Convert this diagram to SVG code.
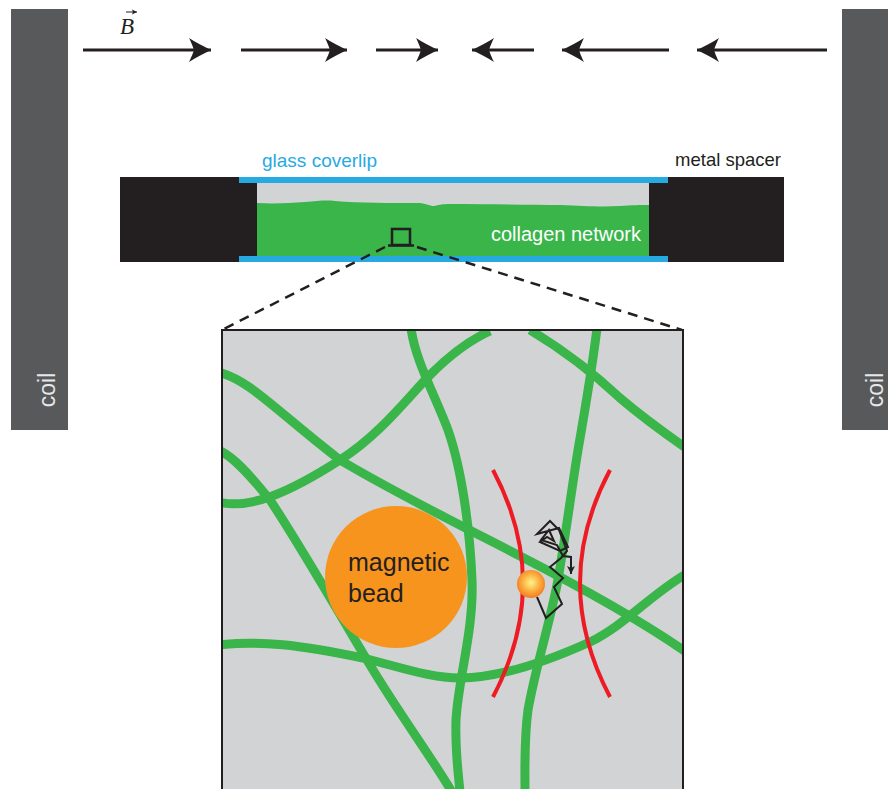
<svg xmlns="http://www.w3.org/2000/svg" width="888" height="789" viewBox="0 0 888 789">
  <style>
    .coil { fill: #58595b; }
    .coil-label { font-family: "Liberation Sans", Arial, sans-serif; font-size: 23px; fill: #e6e7e8; text-anchor: middle; }
    .field { stroke: #231f20; stroke-width: 3; fill: none; }
    .label { font-family: "Liberation Sans", Arial, sans-serif; }
    .fiber { fill: none; stroke: #39b54a; stroke-width: 9; stroke-linecap: butt; stroke-linejoin: round; }
    .trap { fill: none; stroke: #ed1c24; stroke-width: 4; }
    .dash { fill: none; stroke: #231f20; stroke-width: 2.5; stroke-dasharray: 10 7; }
  </style>
  <defs>
    <marker id="head" viewBox="-22 -12 23 24" refX="0" refY="0" markerWidth="23" markerHeight="24" orient="auto" markerUnits="userSpaceOnUse">
      <path d="M0,0 C-8,-4 -16,-8 -22,-12 C-19,-6 -18,-3 -17,0 C-18,3 -19,6 -22,12 C-16,8 -8,4 0,0 Z" fill="#231f20"/>
    </marker>
    <marker id="smallhead" viewBox="-8 -4 9 8" refX="0" refY="0" markerWidth="9" markerHeight="8" orient="auto" markerUnits="userSpaceOnUse">
      <path d="M0,0 L-8,-4 L-6,0 L-8,4 Z" fill="#231f20"/>
    </marker>
    <marker id="vecarrow" viewBox="-5 -3 6 6" refX="0" refY="0" markerWidth="6" markerHeight="6" orient="auto" markerUnits="userSpaceOnUse">
      <path d="M0,0 L-5,-2.5 L-4,0 L-5,2.5 Z" fill="#231f20"/>
    </marker>
    <radialGradient id="beadGlow" cx="0.5" cy="0.45" r="0.55">
      <stop offset="0" stop-color="#fff58c"/>
      <stop offset="0.55" stop-color="#fbb040"/>
      <stop offset="1" stop-color="#f47b20"/>
    </radialGradient>
    <clipPath id="panelClip">
      <rect x="223" y="331" width="459" height="460"/>
    </clipPath>
  </defs>

  <rect width="888" height="789" fill="#ffffff"/>

  <!-- coils -->
  <g id="coil-left">
    <rect class="coil" x="11" y="9" width="57" height="421"/>
    <text class="coil-label" transform="translate(55,390) rotate(-90)">coil</text>
  </g>
  <g id="coil-right">
    <rect class="coil" x="842" y="9" width="46" height="421"/>
    <text class="coil-label" transform="translate(883,390) rotate(-90)">coil</text>
  </g>

  <!-- magnetic field arrows -->
  <g id="field-arrows">
    <line class="field" x1="83" y1="50" x2="211" y2="50" marker-end="url(#head)"/>
    <line class="field" x1="241" y1="50" x2="347" y2="50" marker-end="url(#head)"/>
    <line class="field" x1="376" y1="50" x2="438" y2="50" marker-end="url(#head)"/>
    <line class="field" x1="534" y1="50" x2="472" y2="50" marker-end="url(#head)"/>
    <line class="field" x1="669" y1="50" x2="562" y2="50" marker-end="url(#head)"/>
    <line class="field" x1="827" y1="50" x2="697" y2="50" marker-end="url(#head)"/>
  </g>
  <g id="field-label">
    <text x="120" y="34" font-family="'Liberation Serif', 'Times New Roman', serif" font-style="italic" font-size="23" fill="#231f20">B</text>
    <line x1="126" y1="12" x2="137" y2="12" stroke="#231f20" stroke-width="1" marker-end="url(#vecarrow)"/>
  </g>

  <!-- sample chamber -->
  <g id="chamber">
    <rect x="120" y="177" width="664" height="85" fill="#231f20"/>
    <rect x="257" y="183" width="392" height="73" fill="#d1d3d4"/>
    <path d="M257,203 C275,204 290,203 305,202 C318,201 325,200 335,201 C360,203 390,203 420,203 C428,204 430,206 434,206 C438,205 442,204 450,204 C490,204 530,205 560,205 C585,206 600,207 620,206 C632,205 640,205 649,205 L649,256 L257,256 Z" fill="#39b54a"/>
    <rect x="239" y="177" width="429" height="6" fill="#27aae1"/>
    <rect x="239" y="256" width="429" height="6" fill="#27aae1"/>
  </g>
  <g id="chamber-labels" class="label">
    <text x="262" y="167" font-size="19" fill="#27aae1">glass coverlip</text>
    <text x="781" y="166" font-size="18.5" fill="#231f20" text-anchor="end">metal spacer</text>
    <text x="641" y="241" font-size="20" fill="#ffffff" text-anchor="end">collagen network</text>
  </g>

  <!-- magnified region marker and projection -->
  <g id="zoom-marker">
    <rect x="392" y="229" width="18" height="16" fill="none" stroke="#231f20" stroke-width="2.5"/>
    <line x1="388" y1="245.5" x2="414" y2="245.5" stroke="#231f20" stroke-width="2.5"/>
  </g>
  <g id="connectors">
    <line class="dash" x1="385" y1="247" x2="222" y2="330"/>
    <line class="dash" x1="417" y1="247" x2="682" y2="330"/>
  </g>

  <!-- magnified view of the collagen network -->
  <g id="zoom-panel">
    <rect x="222" y="330" width="461" height="462" fill="#d1d3d4" stroke="#231f20" stroke-width="2"/>
    <g clip-path="url(#panelClip)">
      <path class="fiber" d="M218,372 C250,380 275,410 340,460 C390,490 450,520 520,556 C590,592 640,620 686,652"/>
      <path class="fiber" d="M218,502 C250,510 290,492 340,460 C380,435 410,395 430,375 C450,355 470,340 490,331"/>
      <path class="fiber" d="M218,450 C232,455 250,475 270,500 C300,545 340,615 370,665 C400,715 430,755 452,792"/>
      <path class="fiber" d="M411,328 C415,360 435,395 448,430 C462,470 470,530 472,580 C474,630 458,680 456,720 C455,750 458,770 460,792"/>
      <path class="fiber" d="M218,645 C260,640 300,645 363,658 C400,667 430,678 460,678 C500,678 550,660 590,642 C625,625 650,595 686,574"/>
      <path class="fiber" d="M530,330 C560,348 590,370 620,398 C640,415 660,430 686,448"/>
      <path class="fiber" d="M597,328 C592,370 585,410 578,450 C570,500 565,540 557,585 C548,630 535,670 528,710 C524,740 525,770 525,792"/>
    </g>
  </g>

  <g id="magnetic-bead">
    <circle cx="396" cy="577" r="71" fill="#f7941d"/>
    <text class="label" x="348" y="571" font-size="25" fill="#231f20">magnetic</text>
    <text class="label" x="348" y="602" font-size="25" fill="#231f20">bead</text>
  </g>

  <g id="optical-trap">
    <path class="trap" d="M493,470 Q553,583 493,697"/>
    <path class="trap" d="M610,470 Q550,583 610,697"/>
  </g>

  <g id="tracer-bead">
    <path d="M537,597 L546,618 L562,604 L554,587 L563,578 L550,567 L561,558 L567,551 L559,530 L550,521 L537,534 L559,528 L568,547 L560,551 L540,542 L547,537 L554,541 L549,530 L541,540 L557,545 L563,556 L571,557 L571,574" fill="none" stroke="#231f20" stroke-width="2" stroke-linejoin="miter" marker-end="url(#smallhead)"/>
    <circle cx="531" cy="584" r="14" fill="url(#beadGlow)"/>
  </g>
</svg>
